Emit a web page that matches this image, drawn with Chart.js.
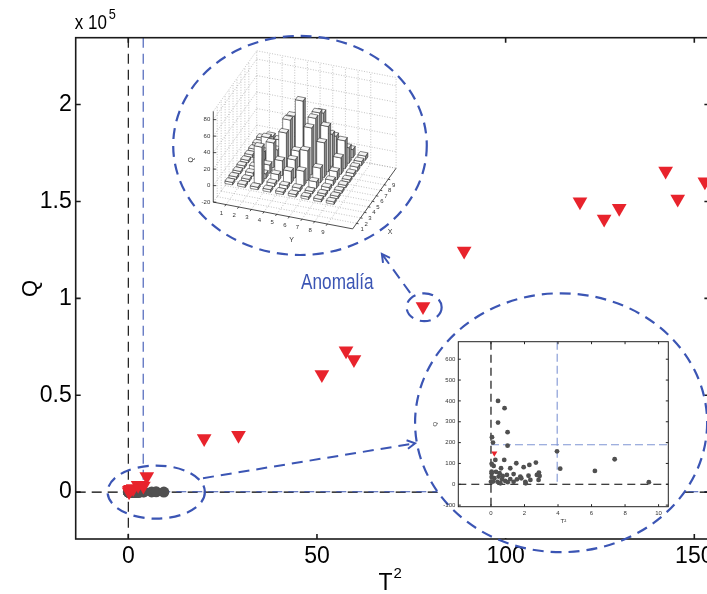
<!DOCTYPE html>
<html>
<head>
<meta charset="utf-8">
<script src="https://cdn.jsdelivr.net/npm/chart.js@4.4.1/dist/chart.umd.min.js"></script>
<style>
  html, body { margin: 0; padding: 0; background: #fff; overflow: hidden; }
  #wrap { position: relative; width: 720px; height: 594px; }
  #mainChart { position: absolute; left: 0; top: 0; }
  #insetChart { position: absolute; left: 425px; top: 335px; }
</style>
</head>
<body>
<div id="wrap">
  <canvas id="mainChart" width="720" height="594"></canvas>
  <canvas id="insetChart" width="250" height="195"></canvas>
</div>
<script>
// Normalne opservacije (sive tocke) - T2 i Q
const normalT2 = [0.42, 0.81, 0.42, 0.99, 0.06, 0.12, 0.99, 3.94, 4.13, 6.2, 7.38, 9.42,
  0.26, 0.79, 1.51, 1.95, 2.29, 2.68, 0.16, 0.6, 1.15, 0.04, 0.51, 0.95, 1.35, 1.75, 2.24,
  2.74, 2.84, 2.35, 0.2, 0.66, 1.15, 1.55, 2.05, 0.39, 0.85, 1.35, 0.0, 0.04, 0.04, 2.86,
  2.07, 0.56, 1.81, 0.46, 0.04, 0.12, 2.9, 0.3, 0.7, 1.0];
const normalQ = [400, 365, 296, 250, 226, 200, 185, 158, 75, 64, 120, 10,
  117, 117, 101, 82, 93, 104, 88, 77, 77, 53, 53, 45, 49, 37, 41,
  45, 21, 21, 29, 24, 25, 24, 12, 12, 16, 12, 12, 35, 98, 56,
  5, 5, 29, 37, 61, 13, 40, 60, 40, 10];

// Anomalije (crveni trokuti)
const anomalyT2 = [0.2, 0.3, 0.6, 1.3, 2.6, 4.0, 4.9, 20.1, 29.2, 51.3, 57.7, 59.8,
  78.1, 89.0, 119.7, 126.1, 130.1, 142.4, 145.6, 152.8];
const anomalyQ = [149, 900, 1500, 1900, 3600, 3200, 8100, 27600, 29300, 60700, 73000, 68400,
  95800, 124400, 149800, 140900, 146500, 165700, 151200, 160100];

// Granice
const limitT2 = 3.95;
const limitQ = 190;

// Oznake osi
const mainXTicks = [0, 50, 100, 150];
const mainYTicks = [0, 50000, 100000, 150000, 200000];
const insetXTicks = [0, 2, 4, 6, 8, 10];
const insetYTicks = [-100, 0, 100, 200, 300, 400, 500, 600];

// 3D stupci: redovi X = 1..9, stupci Y = 1..9
const barX = [1, 2, 3, 4, 5, 6, 7, 8, 9];
const barY = [1, 2, 3, 4, 5, 6, 7, 8, 9];
const barQ = [
  [3, 3, 3, 3, 3, 3, 3, 3, 3],
  [3, 3, 45, 4, 4, 4, 3, 3, 3],
  [3, 4, 6, 8, 15, 18, 8, 4, 3],
  [3, 5, 10, 18, 22, 36, 18, 6, 3],
  [3, 8, 30, 45, 26, 57, 42, 10, 3],
  [3, 10, 15, 54, 80, 62, 55, 20, 4],
  [3, 20, 20, 52, 40, 62, 39, 34, 5],
  [3, 15, 6, 20, 30, 55, 30, 19, 5],
  [3, 3, 4, 8, 12, 15, 12, 10, 5]
];
const barQTicks = [-20, 0, 20, 40, 60, 80];

const FONT = '"Liberation Sans", Arial, sans-serif';
const RED = "#e8232c";
const GREY = "#505050";
const BLUE = "#3b55b4";

// Tekst suzen vodoravno (uski font kao u originalu)
function narrowText(ctx, text, x, y, size, squeeze) {
  ctx.save();
  ctx.font = size + "px " + FONT;
  ctx.translate(x, y);
  ctx.scale(squeeze, 1);
  ctx.fillText(text, 0, 0);
  const w = ctx.measureText(text).width * squeeze;
  ctx.restore();
  return w;
}

// Isprekidane referentne linije
const refLinesPlugin = {
  id: "refLines",
  beforeDatasetsDraw(chart, args, o) {
    const { ctx, chartArea: a, scales: { x, y } } = chart;
    const line = (x1, y1, x2, y2) => { ctx.beginPath(); ctx.moveTo(x1, y1); ctx.lineTo(x2, y2); ctx.stroke(); };
    ctx.save();
    ctx.beginPath();
    ctx.rect(a.left, a.top, a.right - a.left, a.bottom - a.top);
    ctx.clip();
    ctx.lineWidth = o.width;
    ctx.strokeStyle = "#000";
    ctx.setLineDash(o.blackDash);
    line(x.getPixelForValue(0), a.top, x.getPixelForValue(0), a.bottom);
    line(a.left, y.getPixelForValue(0), a.right, y.getPixelForValue(0));
    ctx.strokeStyle = o.blue;
    ctx.setLineDash(o.blueDash);
    line(x.getPixelForValue(limitT2), a.top, x.getPixelForValue(limitT2), y.getPixelForValue(0));
    line(x.getPixelForValue(0), y.getPixelForValue(limitQ), a.right, y.getPixelForValue(limitQ));
    ctx.restore();
  }
};

// Okvir i unutarnje oznake (MATLAB stil)
const frameTicksPlugin = {
  id: "frameTicks",
  afterDatasetsDraw(chart, args, o) {
    const { ctx, chartArea: a, scales: { x, y } } = chart;
    ctx.save();
    ctx.setLineDash([]);
    ctx.strokeStyle = o.color;
    ctx.lineWidth = o.width;
    ctx.strokeRect(a.left, a.top, a.right - a.left, a.bottom - a.top);
    ctx.beginPath();
    x.ticks.forEach(t => {
      const px = x.getPixelForValue(t.value);
      ctx.moveTo(px, a.bottom); ctx.lineTo(px, a.bottom - o.len);
      ctx.moveTo(px, a.top); ctx.lineTo(px, a.top + o.len);
    });
    y.ticks.forEach(t => {
      const py = y.getPixelForValue(t.value);
      ctx.moveTo(a.left, py); ctx.lineTo(a.left + o.len, py);
      ctx.moveTo(a.right, py); ctx.lineTo(a.right - o.len, py);
    });
    ctx.stroke();
    ctx.restore();
  }
};

// Anotacije u koordinatama podataka (T2, Q)
const annot = {
  upper: { x: 45.5, y: 178900, rx: 33.6, ry: 56550 },
  big: { x: 114.7, y: 35800, rx: 38.7, ry: 66800 },
  cluster: { x: 7.4, y: 0, rx: 12.9, ry: 13700 },
  anomaly: { x: 78.4, y: 95400, rx: 4.64, ry: 7200 },
  arrow1: { x1: 19.8, y1: 7200, x2: 76.0, y2: 25200 },
  arrow2: { x1: 74.7, y1: 102800, x2: 67.2, y2: 122900 },
  label: { x: 55.4, y: 108000, text: "Anomalía" }
};

function draw3D(ctx, cx, cy) {
  const O = [cx - 86.7, cy + 56.7];
  const uY = [12.67, 2.43], uX = [3.95, -5.51], uQ = 0.825;
  const qMin = -20, qMax = 90, span = 11;
  const P = (yv, xv, q) => [O[0] + yv * uY[0] + xv * uX[0], O[1] + yv * uY[1] + xv * uX[1] - (q - qMin) * uQ];
  const seg = (p1, p2) => { ctx.moveTo(p1[0], p1[1]); ctx.lineTo(p2[0], p2[1]); };

  ctx.save();
  // tockasta mreza
  ctx.strokeStyle = "#9a9a9a";
  ctx.lineWidth = 0.6;
  ctx.setLineDash([1, 1.6]);
  ctx.beginPath();
  for (let t = 1; t <= 9; t++) {
    seg(P(t, 0, qMin), P(t, span, qMin));
    seg(P(0, t, qMin), P(span, t, qMin));
    seg(P(0, t, qMin), P(0, t, qMax));
    seg(P(t, span, qMin), P(t, span, qMax));
  }
  barQTicks.forEach(q => {
    seg(P(0, 0, q), P(0, span, q));
    seg(P(0, span, q), P(span, span, q));
  });
  seg(P(0, 0, qMax), P(0, span, qMax));
  seg(P(0, span, qMax), P(span, span, qMax));
  seg(P(0, span, qMin), P(0, span, qMax));
  seg(P(span, span, qMin), P(span, span, qMax));
  seg(P(0, span, qMin), P(span, span, qMin));
  ctx.stroke();

  // osi
  ctx.setLineDash([]);
  ctx.strokeStyle = "#222";
  ctx.lineWidth = 0.8;
  ctx.beginPath();
  seg(P(0, 0, qMin), P(0, 0, qMax));
  seg(P(0, 0, qMin), P(span, 0, qMin));
  seg(P(span, 0, qMin), P(span, span, qMin));
  barQTicks.forEach(q => { const p = P(0, 0, q); ctx.moveTo(p[0], p[1]); ctx.lineTo(p[0] + 3, p[1]); });
  barY.forEach(t => { const p = P(t, 0, qMin); ctx.moveTo(p[0], p[1]); ctx.lineTo(p[0] - 1.2, p[1] + 1.7); });
  barX.forEach(t => { const p = P(span, t, qMin); ctx.moveTo(p[0], p[1]); ctx.lineTo(p[0] + 2, p[1] + 0.4); });
  ctx.stroke();

  // oznake
  ctx.fillStyle = "#333";
  ctx.font = "6px " + FONT;
  ctx.textAlign = "right";
  ctx.textBaseline = "middle";
  barQTicks.forEach(q => { const p = P(0, 0, q); ctx.fillText(String(q), p[0] - 3, p[1]); });
  ctx.textAlign = "center";
  barY.forEach(t => { const p = P(t, 0, qMin); ctx.fillText(String(t), p[0] - 4.5, p[1] + 8.4); });
  barX.forEach(t => { const p = P(span, t, qMin); ctx.fillText(String(t), p[0] + 5.5, p[1] + 6); });
  ctx.font = "7px " + FONT;
  let p = P(5.5, 0, qMin);
  ctx.fillText("Y", p[0] + 8.7, p[1] + 25);
  p = P(span, 5.5, qMin);
  ctx.fillText("X", p[0] + 15.6, p[1] + 33.6);
  p = P(0, 0, 35);
  ctx.save();
  ctx.translate(p[0] - 22.6, p[1] + 3);
  ctx.rotate(-Math.PI / 2);
  ctx.fillText("Q", 0, 0);
  ctx.restore();

  // stupci, od straznjih prema prednjima
  const w = 0.3;
  const order = [];
  barX.forEach((xv, i) => barY.forEach((yv, j) => order.push({ xv, yv, q: barQ[i][j] })));
  order.sort((a, b) => (b.xv - a.xv) || (a.yv - b.yv));
  const quad = (pts, fill) => {
    ctx.beginPath();
    ctx.moveTo(pts[0][0], pts[0][1]);
    for (let k = 1; k < pts.length; k++) ctx.lineTo(pts[k][0], pts[k][1]);
    ctx.closePath();
    ctx.fillStyle = fill;
    ctx.fill();
    ctx.stroke();
  };
  ctx.strokeStyle = "#111";
  ctx.lineWidth = 0.5;
  order.forEach(b => {
    const { xv, yv, q } = b;
    quad([P(yv + w, xv - w, 0), P(yv + w, xv + w, 0), P(yv + w, xv + w, q), P(yv + w, xv - w, q)], "#8a8a8a");
    quad([P(yv - w, xv - w, 0), P(yv + w, xv - w, 0), P(yv + w, xv - w, q), P(yv - w, xv - w, q)], "#ffffff");
    quad([P(yv - w, xv - w, q), P(yv + w, xv - w, q), P(yv + w, xv + w, q), P(yv - w, xv + w, q)], "#f4f4f4");
  });
  ctx.restore();
}

const annotationsPlugin = {
  id: "annotations",
  afterDraw(chart) {
    const { ctx, chartArea: a, scales: { x, y } } = chart;
    const ell = (e) => ({
      cx: x.getPixelForValue(e.x), cy: y.getPixelForValue(e.y),
      rx: x.getPixelForValue(e.x + e.rx) - x.getPixelForValue(e.x),
      ry: y.getPixelForValue(e.y) - y.getPixelForValue(e.y + e.ry)
    });
    const strokeEll = (g) => {
      ctx.save();
      ctx.strokeStyle = BLUE;
      ctx.lineWidth = 2.2;
      ctx.setLineDash([11, 7]);
      ctx.beginPath();
      ctx.ellipse(g.cx, g.cy, g.rx, g.ry, 0, 0, Math.PI * 2);
      ctx.stroke();
      ctx.restore();
    };
    const fillEll = (g) => {
      ctx.save();
      ctx.beginPath();
      ctx.rect(a.left + 1, a.top + 1, a.right - a.left - 2, a.bottom - a.top - 2);
      ctx.clip();
      ctx.fillStyle = "#fff";
      ctx.beginPath();
      ctx.ellipse(g.cx, g.cy, g.rx, g.ry, 0, 0, Math.PI * 2);
      ctx.fill();
      ctx.restore();
    };
    const arrow = (ar) => {
      const x1 = x.getPixelForValue(ar.x1), y1 = y.getPixelForValue(ar.y1);
      const x2 = x.getPixelForValue(ar.x2), y2 = y.getPixelForValue(ar.y2);
      ctx.save();
      ctx.strokeStyle = BLUE;
      ctx.lineWidth = 2;
      ctx.setLineDash([11, 7]);
      ctx.beginPath(); ctx.moveTo(x1, y1); ctx.lineTo(x2, y2); ctx.stroke();
      ctx.setLineDash([]);
      const ang = Math.atan2(y2 - y1, x2 - x1);
      ctx.beginPath();
      ctx.moveTo(x2 - 9 * Math.cos(ang - 0.5), y2 - 9 * Math.sin(ang - 0.5));
      ctx.lineTo(x2, y2);
      ctx.lineTo(x2 - 9 * Math.cos(ang + 0.5), y2 - 9 * Math.sin(ang + 0.5));
      ctx.stroke();
      ctx.restore();
    };

    const big = ell(annot.big);
    fillEll(big);
    strokeEll(big);

    const up = ell(annot.upper);
    fillEll(up);
    draw3D(ctx, up.cx, up.cy);
    strokeEll(up);

    strokeEll(ell(annot.cluster));
    strokeEll(ell(annot.anomaly));
    arrow(annot.arrow1);
    arrow(annot.arrow2);

    ctx.save();
    ctx.fillStyle = BLUE;
    ctx.textAlign = "center";
    ctx.textBaseline = "middle";
    narrowText(ctx, annot.label.text, x.getPixelForValue(annot.label.x), y.getPixelForValue(annot.label.y), 22, 0.78);
    // eksponent osi Q
    ctx.fillStyle = "#000";
    ctx.textAlign = "left";
    ctx.textBaseline = "alphabetic";
    const wTxt = narrowText(ctx, "x 10", a.left - 1, a.top - 9, 20, 0.85);
    narrowText(ctx, "5", a.left + wTxt + 1, a.top - 19, 15, 0.85);
    // naslov osi x: T s eksponentom 2
    const tx = (a.left + a.right) / 2 - 14;
    const wT = narrowText(ctx, "T", tx, 590, 23, 1);
    narrowText(ctx, "2", tx + wT + 1, 578, 15, 1);
    ctx.restore();
  }
};

new Chart(document.getElementById("mainChart"), {
  type: "scatter",
  data: {
    datasets: [
      {
        label: "Anomalije",
        data: anomalyT2.map((v, i) => ({ x: v, y: anomalyQ[i] })),
        pointStyle: "triangle",
        rotation: 180,
        radius: 8.5,
        backgroundColor: RED,
        borderWidth: 0
      },
      {
        label: "Normalno",
        data: normalT2.map((v, i) => ({ x: v, y: normalQ[i] })),
        pointStyle: "circle",
        radius: 5.5,
        backgroundColor: GREY,
        borderWidth: 0
      }
    ]
  },
  options: {
    responsive: false,
    animation: false,
    devicePixelRatio: 1,
    layout: { padding: { top: 37.7, right: 10.6, left: 0, bottom: 0 } },
    plugins: {
      legend: { display: false },
      tooltip: { enabled: false },
      refLines: { width: 1.1, blackDash: [10, 6], blueDash: [10, 6], blue: BLUE },
      frameTicks: { color: "#1a1a1a", width: 1.6, len: 5 }
    },
    scales: {
      x: {
        type: "linear",
        min: -13.94,
        max: 154,
        afterFit: s => { s.height = 55; },
        afterBuildTicks: s => { s.ticks = mainXTicks.map(v => ({ value: v })); },
        grid: { display: false, drawTicks: false },
        border: { display: false },
        ticks: { color: "#000", font: { family: FONT, size: 23 }, padding: 4, maxRotation: 0 },
        title: { display: false }
      },
      y: {
        type: "linear",
        min: -24200,
        max: 234500,
        afterFit: s => { s.width = 75.7; },
        afterBuildTicks: s => { s.ticks = mainYTicks.map(v => ({ value: v })); },
        grid: { display: false, drawTicks: false },
        border: { display: false },
        ticks: { color: "#000", font: { family: FONT, size: 23 }, padding: 4, callback: v => String(v / 1e5) },
        title: { display: true, text: "Q", color: "#000", font: { family: FONT, size: 22, lineHeight: 1 }, padding: { top: 20, bottom: 0 } }
      }
    }
  },
  plugins: [refLinesPlugin, frameTicksPlugin, annotationsPlugin]
});

// Uvecani prikaz oko ishodista
new Chart(document.getElementById("insetChart"), {
  type: "scatter",
  data: {
    datasets: [
      {
        label: "Anomalije",
        data: anomalyT2.map((v, i) => ({ x: v, y: anomalyQ[i] })),
        pointStyle: "triangle",
        rotation: 180,
        radius: 3.5,
        backgroundColor: RED,
        borderWidth: 0
      },
      {
        label: "Normalno",
        data: normalT2.map((v, i) => ({ x: v, y: normalQ[i] })),
        pointStyle: "circle",
        radius: 2.4,
        backgroundColor: GREY,
        borderWidth: 0
      }
    ]
  },
  options: {
    responsive: false,
    animation: false,
    devicePixelRatio: 1,
    layout: { padding: { top: 6.7, right: 6.7, left: 0, bottom: 0 } },
    plugins: {
      legend: { display: false },
      tooltip: { enabled: false },
      refLines: { width: 1.1, blackDash: [8, 5], blueDash: [8, 4], blue: "#7f95d4" },
      frameTicks: { color: "#222", width: 1, len: 2.5 }
    },
    scales: {
      x: {
        type: "linear",
        min: -1.95,
        max: 10.58,
        afterFit: s => { s.height = 23.3; },
        afterBuildTicks: s => { s.ticks = insetXTicks.map(v => ({ value: v })); },
        grid: { display: false, drawTicks: false },
        border: { display: false },
        ticks: { color: "#333", font: { family: FONT, size: 6 }, padding: 3, maxRotation: 0 },
        title: { display: true, text: "T²", color: "#333", font: { family: FONT, size: 6, lineHeight: 1 }, padding: { top: 0, bottom: 5.3 } }
      },
      y: {
        type: "linear",
        min: -107.5,
        max: 684,
        afterFit: s => { s.width = 33.3; },
        afterBuildTicks: s => { s.ticks = insetYTicks.map(v => ({ value: v })); },
        grid: { display: false, drawTicks: false },
        border: { display: false },
        ticks: { color: "#333", font: { family: FONT, size: 6 }, padding: 3 },
        title: { display: true, text: "Q", color: "#333", font: { family: FONT, size: 6, lineHeight: 1 }, padding: { top: 7.7, bottom: 0 } }
      }
    }
  },
  plugins: [refLinesPlugin, frameTicksPlugin]
});
</script>
</body>
</html>
